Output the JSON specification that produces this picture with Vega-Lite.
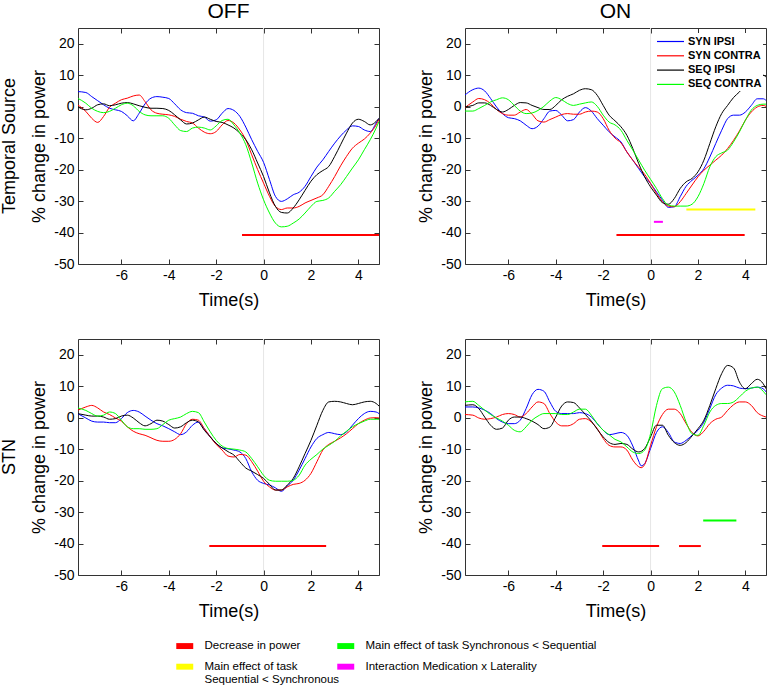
{
  "$schema": "https://vega.github.io/schema/vega-lite/v6.json",
  "padding": {"left": 0, "top": 1, "right": 0, "bottom": 0},
  "background": "white",
  "config": {
    "font": "Liberation Sans",
    "view": {"stroke": "#333333", "strokeWidth": 1},
    "axis": {"grid": false, "domain": false, "tickColor": "#333333", "tickSize": -5, "labelFontSize": 14, "labelColor": "#000000", "labelPadding": 9, "titleFontSize": 18, "titleFontWeight": "normal", "titleColor": "#000000", "titlePadding": 5, "labelExpr": "toString(datum.value)"},
    "header": {"labelFont": "Liberation Sans", "labelColor": "#000000"}
  },
  "data": {"values": [
    {"r": "Temporal Source", "c": "OFF", "s": "SYN IPSI", "t": [-7.85,-7.5,-7.25,-7,-6.75,-6.5,-6.25,-6,-5.75,-5.5,-5.25,-5,-4.75,-4.5,-4.25,-4,-3.75,-3.5,-3.25,-3,-2.75,-2.5,-2.25,-2,-1.75,-1.5,-1.25,-1,-0.75,-0.5,-0.25,0,0.25,0.5,0.75,1,1.25,1.5,1.75,2,2.25,2.5,2.75,3,3.25,3.5,3.75,4,4.25,4.5,4.75,4.87], "v": [4.8,4.5,3.2,1.9,0.6,-0.5,-1.0,-1.5,-2.9,-4.5,-2.1,0.9,2.7,3.2,3.0,2.6,0.9,-1.0,-1.9,-2.1,-2.9,-3.3,-4.6,-4.2,-2.1,-0.6,-1.2,-3.1,-6.5,-10.5,-14.2,-17.7,-23.2,-28.5,-30.1,-29.3,-28,-27.2,-25.3,-22.2,-19.2,-16.9,-14.2,-11.6,-9.3,-7.4,-6.1,-6.3,-7.4,-7.9,-5.2,-3.7]},
    {"r": "Temporal Source", "c": "OFF", "s": "SYN CONTRA", "t": [-7.85,-7.5,-7.25,-7,-6.75,-6.5,-6.25,-6,-5.75,-5.5,-5.25,-5,-4.75,-4.5,-4.25,-4,-3.75,-3.5,-3.25,-3,-2.75,-2.5,-2.25,-2,-1.75,-1.5,-1.25,-1,-0.75,-0.5,-0.25,0,0.25,0.5,0.75,1,1.25,1.5,1.75,2,2.25,2.5,2.75,3,3.25,3.5,3.75,4,4.25,4.5,4.75,4.87], "v": [0.6,-1.5,-3.7,-5.0,-3.1,-0.2,1.1,2.2,2.7,3.4,3.7,1.6,-1.0,-2.1,-2.4,-2.6,-3.1,-4.0,-4.7,-5.2,-6.8,-8.1,-8.6,-7.9,-5.8,-4.4,-5.2,-7.4,-10.5,-15.3,-20.0,-24.3,-28.5,-31.7,-32.7,-32.2,-32.2,-31.7,-30.6,-29.8,-29.0,-28.0,-25.3,-22.2,-18.8,-15.8,-13.2,-11.6,-10.3,-8.4,-5.8,-4.0]},
    {"r": "Temporal Source", "c": "OFF", "s": "SEQ IPSI", "t": [-7.85,-7.5,-7.25,-7,-6.75,-6.5,-6.25,-6,-5.75,-5.5,-5.25,-5,-4.75,-4.5,-4.25,-4,-3.75,-3.5,-3.25,-3,-2.75,-2.5,-2.25,-2,-1.75,-1.5,-1.25,-1,-0.75,-0.5,-0.25,0,0.25,0.5,0.75,1,1.25,1.5,1.75,2,2.25,2.5,2.75,3,3.25,3.5,3.75,4,4.25,4.5,4.75,4.87], "v": [0.0,-1.0,-0.5,0.6,0.9,0.3,0.6,1.1,1.3,0.9,0.3,-0.2,-0.5,-0.5,-0.6,-1.2,-2.6,-4.2,-5.5,-5.2,-4.2,-3.3,-4.0,-4.7,-5.0,-5.8,-6.8,-8.4,-10.5,-13.7,-17.9,-22.2,-27.4,-31.7,-33.6,-33.8,-32.2,-29.6,-26.6,-23.7,-21.6,-20.3,-19.0,-15.8,-12.1,-8.4,-5.2,-4.0,-4.7,-5.8,-4.7,-3.7]},
    {"r": "Temporal Source", "c": "OFF", "s": "SEQ CONTRA", "t": [-7.85,-7.5,-7.25,-7,-6.75,-6.5,-6.25,-6,-5.75,-5.5,-5.25,-5,-4.75,-4.5,-4.25,-4,-3.75,-3.5,-3.25,-3,-2.75,-2.5,-2.25,-2,-1.75,-1.5,-1.25,-1,-0.75,-0.5,-0.25,0,0.25,0.5,0.75,1,1.25,1.5,1.75,2,2.25,2.5,2.75,3,3.25,3.5,3.75,4,4.25,4.5,4.75,4.87], "v": [2.7,1.1,-0.5,-1.5,-1.9,-1.5,-0.5,0.6,1.1,0.3,-1.5,-2.6,-2.9,-2.9,-2.9,-3.7,-5.8,-7.6,-7.9,-6.8,-6.5,-6.8,-7.4,-6.1,-4.4,-4.0,-5.8,-8.4,-12.1,-17.9,-24.3,-29.6,-33.8,-37.0,-38.2,-38.0,-37.0,-35.7,-33.8,-31.7,-30.1,-29.8,-29.0,-26.9,-24.8,-22.2,-19.5,-16.9,-13.7,-10.5,-6.8,-4.7]},
    {"r": "Temporal Source", "c": "ON", "s": "SYN IPSI", "t": [-7.85,-7.5,-7.25,-7,-6.75,-6.5,-6.25,-6,-5.75,-5.5,-5.25,-5,-4.75,-4.5,-4.25,-4,-3.75,-3.5,-3.25,-3,-2.75,-2.5,-2.25,-2,-1.75,-1.5,-1.25,-1,-0.75,-0.5,-0.25,0,0.25,0.5,0.75,1,1.25,1.5,1.75,2,2.25,2.5,2.75,3,3.25,3.5,3.75,4,4.25,4.5,4.75,4.87], "v": [3.6,5.4,5.9,5.0,2.6,-0.1,-2.2,-3.5,-3.8,-4.5,-5.9,-7.0,-6.2,-3.8,-1.4,-1.2,-2.7,-4.5,-4.1,-1.7,-0.3,-1.4,-3.8,-5.9,-8.0,-9.6,-11.2,-14.4,-17.0,-19.7,-22.3,-24.4,-27.1,-29.7,-32.0,-31.8,-28.6,-25.3,-23.4,-21.8,-19.7,-16.0,-11.7,-7.5,-3.8,-2.7,-2.7,-1.7,0.4,2.5,2.5,2.0]},
    {"r": "Temporal Source", "c": "ON", "s": "SYN CONTRA", "t": [-7.85,-7.5,-7.25,-7,-6.75,-6.5,-6.25,-6,-5.75,-5.5,-5.25,-5,-4.75,-4.5,-4.25,-4,-3.75,-3.5,-3.25,-3,-2.75,-2.5,-2.25,-2,-1.75,-1.5,-1.25,-1,-0.75,-0.5,-0.25,0,0.25,0.5,0.75,1,1.25,1.5,1.75,2,2.25,2.5,2.75,3,3.25,3.5,3.75,4,4.25,4.5,4.75,4.87], "v": [-0.4,1.5,2.6,2.2,1.0,-0.9,-2.2,-2.7,-2.7,-1.7,-0.9,-2.4,-4.5,-4.9,-4.1,-3.3,-2.5,-2.2,-2.4,-2.4,-1.7,-1.4,-1.7,-3.8,-7.5,-10.0,-11.5,-14.4,-17.0,-19.3,-21.5,-24.4,-27.6,-30.2,-31.6,-31.8,-30.2,-27.6,-24.9,-22.3,-20.2,-18.6,-17.0,-15.4,-13.3,-10.7,-7.7,-4.3,-1.7,-0.1,0.4,0.1]},
    {"r": "Temporal Source", "c": "ON", "s": "SEQ IPSI", "t": [-7.85,-7.5,-7.25,-7,-6.75,-6.5,-6.25,-6,-5.75,-5.5,-5.25,-5,-4.75,-4.5,-4.25,-4,-3.75,-3.5,-3.25,-3,-2.75,-2.5,-2.25,-2,-1.75,-1.5,-1.25,-1,-0.75,-0.5,-0.25,0,0.25,0.5,0.75,1,1.25,1.5,1.75,2,2.25,2.5,2.75,3,3.25,3.5,3.75,4,4.25,4.5,4.75,4.87], "v": [-0.1,0.4,1.2,1.2,0.4,-0.9,-1.7,-0.9,0.4,1.3,1.2,0.4,-0.3,-0.9,-0.9,0.4,2.2,3.3,4.1,5.2,5.7,5.4,3.6,0.4,-2.7,-4.5,-6.4,-9.1,-13.3,-18.1,-22.3,-25.5,-28.1,-30.5,-31.0,-29.2,-26.0,-23.9,-22.8,-20.7,-17.0,-11.7,-6.4,-2.2,0.4,2.9,4.7,6.8,8.2,9.6,10.0,9.4]},
    {"r": "Temporal Source", "c": "ON", "s": "SEQ CONTRA", "t": [-7.85,-7.5,-7.25,-7,-6.75,-6.5,-6.25,-6,-5.75,-5.5,-5.25,-5,-4.75,-4.5,-4.25,-4,-3.75,-3.5,-3.25,-3,-2.75,-2.5,-2.25,-2,-1.75,-1.5,-1.25,-1,-0.75,-0.5,-0.25,0,0.25,0.5,0.75,1,1.25,1.5,1.75,2,2.25,2.5,2.75,3,3.25,3.5,3.75,4,4.25,4.5,4.75,4.87], "v": [-1.4,-1.4,-0.6,0.4,1.5,2.2,2.8,2.2,0.4,-1.4,-2.2,-2.0,-1.2,0.1,1.8,2.9,2.2,1.0,0.4,0.8,1.2,1.5,0.1,-2.7,-4.9,-5.8,-7.5,-10.7,-13.8,-17.0,-20.2,-23.1,-26.0,-29.2,-31.3,-31.6,-31.6,-31.6,-31.0,-28.6,-24.4,-19.1,-15.9,-14.7,-13.8,-11.2,-8.0,-4.3,-1.1,0.4,0.8,0.8]},
    {"r": "STN", "c": "OFF", "s": "SYN IPSI", "t": [-7.85,-7.5,-7.25,-7,-6.75,-6.5,-6.25,-6,-5.75,-5.5,-5.25,-5,-4.75,-4.5,-4.25,-4,-3.75,-3.5,-3.25,-3,-2.75,-2.5,-2.25,-2,-1.75,-1.5,-1.25,-1,-0.75,-0.5,-0.25,0,0.25,0.5,0.75,1,1.25,1.5,1.75,2,2.25,2.5,2.75,3,3.25,3.5,3.75,4,4.25,4.5,4.75,4.87], "v": [1.3,-0.1,-1.1,-1.4,-1.4,-1.6,-1.6,-0.3,1.6,2.3,1.8,0.5,-0.8,-1.9,-2.6,-3.5,-4.5,-5.4,-4.5,-2.4,-1.4,-3.5,-6.1,-8.2,-9.6,-9.9,-10.3,-10.9,-13.0,-17.2,-19.9,-20.9,-21.4,-22.3,-23.4,-21.7,-19.9,-16.7,-13.0,-9.3,-6.6,-5.4,-4.7,-5.1,-5.4,-4.5,-2.4,-0.3,1.3,2.0,1.8,1.3]},
    {"r": "STN", "c": "OFF", "s": "SYN CONTRA", "t": [-7.85,-7.5,-7.25,-7,-6.75,-6.5,-6.25,-6,-5.75,-5.5,-5.25,-5,-4.75,-4.5,-4.25,-4,-3.75,-3.5,-3.25,-3,-2.75,-2.5,-2.25,-2,-1.75,-1.5,-1.25,-1,-0.75,-0.5,-0.25,0,0.25,0.5,0.75,1,1.25,1.5,1.75,2,2.25,2.5,2.75,3,3.25,3.5,3.75,4,4.25,4.5,4.75,4.87], "v": [2.3,3.4,3.9,3.1,1.8,1.0,-0.1,-1.1,-2.9,-4.3,-5.1,-5.6,-6.4,-7.2,-7.5,-7.5,-6.9,-5.1,-1.9,-0.5,-0.8,-3.5,-6.1,-8.5,-10.3,-12.2,-12.5,-11.7,-11.9,-14.0,-17.0,-20.2,-22.0,-23.0,-23.0,-22.0,-21.2,-20.9,-19.9,-17.7,-14.0,-10.3,-8.5,-7.5,-6.4,-5.1,-3.5,-1.9,-0.8,-0.1,0.0,-0.1]},
    {"r": "STN", "c": "OFF", "s": "SEQ IPSI", "t": [-7.85,-7.5,-7.25,-7,-6.75,-6.5,-6.25,-6,-5.75,-5.5,-5.25,-5,-4.75,-4.5,-4.25,-4,-3.75,-3.5,-3.25,-3,-2.75,-2.5,-2.25,-2,-1.75,-1.5,-1.25,-1,-0.75,-0.5,-0.25,0,0.25,0.5,0.75,1,1.25,1.5,1.75,2,2.25,2.5,2.75,3,3.25,3.5,3.75,4,4.25,4.5,4.75,4.87], "v": [1.3,0.8,0.5,0.5,0.2,-0.5,-0.3,0.5,0.8,-0.1,-1.6,-2.6,-1.9,-0.8,-1.1,-2.2,-3.3,-2.9,-1.6,-0.8,-1.4,-4.0,-6.1,-8.2,-9.6,-10.8,-11.9,-14.0,-16.0,-17.0,-18.1,-19.3,-21.2,-23.0,-23.0,-21.4,-19.3,-15.6,-11.4,-7.2,-2.4,2.3,5.0,5.2,5.0,4.5,4.1,4.5,5.0,5.2,4.5,3.7]},
    {"r": "STN", "c": "OFF", "s": "SEQ CONTRA", "t": [-7.85,-7.5,-7.25,-7,-6.75,-6.5,-6.25,-6,-5.75,-5.5,-5.25,-5,-4.75,-4.5,-4.25,-4,-3.75,-3.5,-3.25,-3,-2.75,-2.5,-2.25,-2,-1.75,-1.5,-1.25,-1,-0.75,-0.5,-0.25,0,0.25,0.5,0.75,1,1.25,1.5,1.75,2,2.25,2.5,2.75,3,3.25,3.5,3.75,4,4.25,4.5,4.75,4.87], "v": [3.1,2.3,1.3,0.5,0.8,1.8,1.3,-0.8,-2.9,-3.5,-3.5,-3.7,-3.7,-3.5,-2.2,-0.8,-0.3,0.2,1.3,2.0,1.6,-1.4,-4.5,-7.2,-9.0,-9.8,-10.0,-10.3,-10.9,-13.0,-15.6,-18.3,-19.9,-20.2,-20.2,-20.2,-19.9,-18.3,-15.1,-13.2,-11.7,-10.0,-8.8,-7.5,-5.8,-4.3,-2.9,-1.9,-1.1,-0.5,-0.5,-0.5]},
    {"r": "STN", "c": "ON", "s": "SYN IPSI", "t": [-7.85,-7.5,-7.25,-7,-6.75,-6.5,-6.25,-6,-5.75,-5.5,-5.25,-5,-4.75,-4.5,-4.25,-4,-3.75,-3.5,-3.25,-3,-2.75,-2.5,-2.25,-2,-1.75,-1.5,-1.25,-1,-0.75,-0.5,-0.4,-0.25,0,0.25,0.5,0.75,1,1.25,1.5,1.75,2,2.25,2.5,2.75,3,3.25,3.5,3.75,4,4.25,4.5,4.75,4.87], "v": [3.4,3.4,3.1,2.4,1.3,-0.3,-1.4,-1.9,-1.9,-0.8,2.9,7.3,9.0,8.4,5.0,2.0,1.3,1.3,1.3,1.6,1.3,0.2,-1.9,-4.0,-5.4,-5.1,-4.7,-5.6,-9.0,-13.8,-15.3,-14.6,-9.8,-4.7,-2.9,-4.7,-7.7,-8.2,-7.2,-5.6,-4.0,-1.4,2.9,7.3,9.4,10.3,10.1,9.4,9.2,9.4,9.7,9.2,8.2]},
    {"r": "STN", "c": "ON", "s": "SYN CONTRA", "t": [-7.85,-7.5,-7.25,-7,-6.75,-6.5,-6.25,-6,-5.75,-5.5,-5.25,-5,-4.75,-4.5,-4.25,-4,-3.75,-3.5,-3.25,-3,-2.75,-2.5,-2.25,-2,-1.75,-1.5,-1.25,-1,-0.75,-0.5,-0.4,-0.25,0,0.25,0.5,0.75,1,1.25,1.5,1.75,2,2.25,2.5,2.75,3,3.25,3.5,3.75,4,4.25,4.5,4.75,4.87], "v": [1.0,0.8,-0.1,-0.5,-0.3,0.2,1.0,1.3,1.0,0.2,1.3,3.4,5.0,4.5,1.3,-1.4,-2.6,-2.6,-1.9,-0.5,-0.3,-1.4,-3.5,-6.6,-8.8,-9.3,-9.3,-10.3,-13.5,-15.6,-15.9,-14.9,-8.8,-2.9,1.0,2.7,2.7,1.3,-1.9,-4.7,-5.8,-4.3,-1.9,-0.5,0.2,2.3,4.1,5.0,5.0,3.9,1.6,0.5,0.2]},
    {"r": "STN", "c": "ON", "s": "SEQ IPSI", "t": [-7.85,-7.5,-7.25,-7,-6.75,-6.5,-6.25,-6,-5.75,-5.5,-5.25,-5,-4.75,-4.5,-4.25,-4,-3.75,-3.5,-3.25,-3,-2.75,-2.5,-2.25,-2,-1.75,-1.5,-1.25,-1,-0.75,-0.5,-0.25,0,0.25,0.5,0.75,1,1.25,1.5,1.75,2,2.25,2.5,2.75,3,3.25,3.5,3.75,4,4.25,4.5,4.75,4.87], "v": [3.9,4.1,2.9,0.2,-2.4,-3.7,-3.3,-0.8,0.2,0.2,-0.3,-1.1,-2.2,-3.5,-3.0,0.2,3.7,5.0,4.8,3.1,1.0,-1.1,-3.7,-6.1,-7.9,-8.5,-8.2,-8.5,-10.0,-10.9,-9.8,-6.1,-2.4,-2.4,-5.6,-7.9,-8.8,-7.9,-5.8,-3.5,-0.8,3.9,9.2,14.0,16.6,15.8,11.3,9.2,10.8,12.2,10.8,9.2]},
    {"r": "STN", "c": "ON", "s": "SEQ CONTRA", "t": [-7.85,-7.5,-7.25,-7,-6.75,-6.5,-6.25,-6,-5.75,-5.5,-5.25,-5,-4.75,-4.5,-4.25,-4,-3.75,-3.5,-3.25,-3,-2.75,-2.5,-2.25,-2,-1.75,-1.5,-1.25,-1,-0.75,-0.5,-0.25,0,0.25,0.5,0.75,1,1.25,1.5,1.75,2,2.25,2.5,2.75,3,3.25,3.5,3.75,4,4.25,4.5,4.75,4.87], "v": [5.0,5.2,3.9,2.4,1.0,-0.1,-1.1,-2.4,-4.0,-4.5,-2.9,-0.8,0.5,1.3,1.3,1.3,1.0,1.0,1.8,2.7,2.7,0.8,-1.9,-4.0,-5.4,-6.9,-7.7,-9.3,-10.9,-11.4,-10.3,-5.1,3.9,9.2,9.7,8.2,3.9,-1.4,-5.1,-5.6,-2.4,1.8,3.9,4.5,4.5,5.0,6.6,8.4,9.4,9.7,8.4,7.3]},
    {"r": "Temporal Source", "c": "OFF", "k": "Decrease in power", "t1": -0.91, "t2": 4.87, "y": -40.8},
    {"r": "Temporal Source", "c": "ON", "k": "Decrease in power", "t1": -1.44, "t2": 3.97, "y": -40.8},
    {"r": "Temporal Source", "c": "ON", "k": "Interaction Medication x Laterality", "t1": 0.14, "t2": 0.52, "y": -36.6},
    {"r": "Temporal Source", "c": "ON", "k": "Main effect of task Sequential < Synchronous", "t1": 1.51, "t2": 4.42, "y": -32.7},
    {"r": "STN", "c": "OFF", "k": "Decrease in power", "t1": -2.29, "t2": 2.64, "y": -40.8},
    {"r": "STN", "c": "ON", "k": "Decrease in power", "t1": -2.04, "t2": 0.36, "y": -40.8},
    {"r": "STN", "c": "ON", "k": "Decrease in power", "t1": 1.2, "t2": 2.12, "y": -40.8},
    {"r": "STN", "c": "ON", "k": "Main effect of task Synchronous < Sequential", "t1": 2.22, "t2": 3.62, "y": -32.7}
  ]},
  "facet": {
    "row": {"field": "r", "type": "nominal", "sort": ["Temporal Source", "STN"], "header": {"title": null, "labelFontSize": 18, "labelAngle": -90, "labelPadding": 2}},
    "column": {"field": "c", "type": "nominal", "sort": ["OFF", "ON"], "header": {"title": null, "labelFontSize": 21, "labelPadding": 5}}
  },
  "spacing": {"row": 28, "column": 37},
  "resolve": {"axis": {"x": "independent", "y": "independent"}},
  "spec": {
    "width": 301,
    "height": 236,
    "layer": [
      {
        "transform": [{"filter": "datum.s == 'SYN IPSI'"}],
        "mark": {"type": "rule", "color": "#e6e6e6", "strokeWidth": 1},
        "encoding": {"x": {"datum": 0, "type": "quantitative", "scale": {"domain": [-7.83, 4.87], "nice": false, "zero": false, "padding": 0}, "axis": null}}
      },
      {
        "transform": [{"filter": "isValid(datum.k)"}],
        "mark": {"type": "bar", "size": 2, "clip": true},
        "encoding": {
          "x": {"field": "t1", "type": "quantitative", "scale": {"domain": [-7.83, 4.87], "nice": false, "zero": false, "padding": 0}, "axis": {"orient": "top", "labels": false, "title": null, "values": [-6, -4, -2, 0, 2, 4]}},
          "x2": {"field": "t2"},
          "y": {"field": "y", "type": "quantitative", "scale": {"domain": [-50, 25], "nice": false, "zero": false, "padding": 0}, "axis": {"orient": "right", "labels": false, "title": null, "values": [-50, -40, -30, -20, -10, 0, 10, 20]}},
          "color": {
            "field": "k", "type": "nominal",
            "scale": {"domain": ["Decrease in power", "Main effect of task Sequential < Synchronous", "Main effect of task Synchronous < Sequential", "Interaction Medication x Laterality"], "range": ["#ff0000", "#ffff00", "#00ff00", "#ff00ff"]},
            "legend": {"orient": "none", "legendX": 101, "legendY": 606, "title": null, "columns": 2, "symbolType": "M-2,0.7H2V2.1H-2Z", "symbolSize": 72, "symbolStrokeWidth": 0, "labelFontSize": 11.5, "labelLimit": 300, "labelBaseline": "top", "labelOffset": 14, "columnPadding": -25, "rowPadding": 3, "labelColor": "#000000",
              "labelExpr": "datum.label == 'Main effect of task Sequential < Synchronous' ? ['Main effect of task', 'Sequential < Synchronous'] : datum.label"}
          }
        }
      },
      {
        "transform": [{"filter": "isValid(datum.s)"}, {"flatten": ["t", "v"]}],
        "mark": {"type": "line", "strokeWidth": 1, "interpolate": "monotone", "clip": true},
        "encoding": {
          "x": {"field": "t", "type": "quantitative", "scale": {"domain": [-7.83, 4.87], "nice": false, "zero": false, "padding": 0}, "axis": {"orient": "bottom", "title": "Time(s)", "titlePadding": 9, "values": [-6, -4, -2, 0, 2, 4]}},
          "y": {"field": "v", "type": "quantitative", "scale": {"domain": [-50, 25], "nice": false, "zero": false, "padding": 0}, "axis": {"orient": "left", "title": "% change in power", "values": [-50, -40, -30, -20, -10, 0, 10, 20]}},
          "stroke": {
            "field": "s", "type": "nominal",
            "scale": {"domain": ["SYN IPSI", "SYN CONTRA", "SEQ IPSI", "SEQ CONTRA"], "range": ["#0000ff", "#ff0000", "#000000", "#00ff00"]},
            "legend": {"orient": "none", "legendX": 584, "legendY": 5, "title": null, "symbolType": "M-2,0H2", "symbolSize": 182, "symbolStrokeWidth": 1.2, "labelFontSize": 11, "labelFontWeight": "bold", "labelOffset": 10, "rowPadding": 1.3, "labelColor": "#000000", "fillColor": "white", "padding": 1}
          }
        }
      }
    ]
  }
}
